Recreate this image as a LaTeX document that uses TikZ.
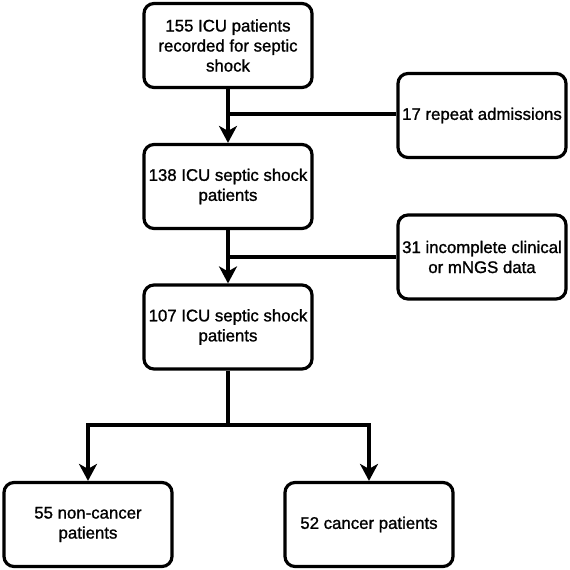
\documentclass[tikz,border=0pt]{standalone}
\usepackage{fontspec}
\setmainfont{Liberation Sans}[FakeBold=1.2]
\usetikzlibrary{arrows.meta}
\begin{document}
\begin{tikzpicture}[x=1pt,y=-1pt,
  box/.style={draw=black, line width=3.2pt, rounded corners=10pt, fill=white,
    minimum width=168pt, minimum height=84pt, inner sep=0pt, align=center,
    font=\fontsize{16.8}{20}\selectfont},
  conn/.style={line width=3.2pt},
  arr/.style={conn, -{Stealth[length=17pt,width=18pt,inset=5pt]}}]
\useasboundingbox (0,0) rectangle (570,570);
\node[box] (a1) at (228,45.5) {155 ICU patients\\recorded for septic\\shock};
\node[box] (r1) at (482,115.5) {17 repeat admissions};
\node[box] (a2) at (228,186.5) {138 ICU septic shock\\patients};
\node[box] (r2) at (482,257) {31 incomplete clinical\\or mNGS data};
\node[box] (a3) at (228,327) {107 ICU septic shock\\patients};
\node[box] (b1) at (88,524.5) {55 non-cancer\\patients};
\node[box] (b2) at (369,524.5) {52 cancer patients};
\coordinate (j1) at (228,114);
\coordinate (j2) at (228,257);
\coordinate (s) at (228,425);
\draw[arr] (a1.south) -- (a2.north);
\draw[conn] (r1.west |- j1) -- (j1);
\draw[arr] (a2.south) -- (a3.north);
\draw[conn] (r2.west) -- (j2);
\draw[conn] (a3.south) -- (s);
\draw[arr] (s) -| (b1.north);
\draw[arr] (s) -| (b2.north);
\end{tikzpicture}
\end{document}
